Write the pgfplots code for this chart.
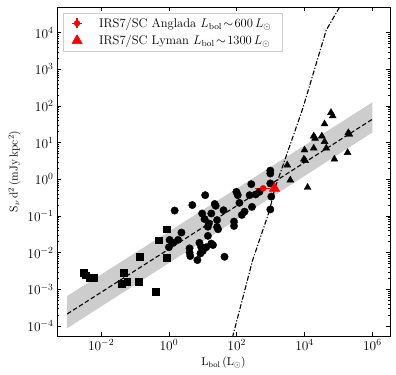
\RequirePackage{fix-cm}
\documentclass[border=0pt]{standalone}
\usepackage{pgfplots}
\pgfplotsset{compat=1.18}
\definecolor{bandgray}{RGB}{205,205,205}
\definecolor{legframe}{RGB}{204,204,204}

% filled circle with a small error cross, for the legend
\pgfdeclareplotmark{crossdot}{%
  \pgfsetlinewidth{1.3pt}%
  \pgfpathmoveto{\pgfpoint{-1.6\pgfplotmarksize}{0pt}}%
  \pgfpathlineto{\pgfpoint{1.6\pgfplotmarksize}{0pt}}%
  \pgfpathmoveto{\pgfpoint{0pt}{-1.6\pgfplotmarksize}}%
  \pgfpathlineto{\pgfpoint{0pt}{1.6\pgfplotmarksize}}%
  \pgfusepathqstroke
  \pgfpathcircle{\pgfpointorigin}{\pgfplotmarksize}%
  \pgfusepathqfill}

\begin{document}
\begin{tikzpicture}
\begin{axis}[
    scale only axis,
    width=333bp, height=329bp,
    xmode=log, ymode=log,
    xmin=5.01e-4, xmax=3.31e6,
    ymin=5.37e-5, ymax=5.01e4,
    xtick={1e-2,1,1e2,1e4,1e6},
    minor xtick={},
    ytick={1e-4,1e-3,1e-2,1e-1,1,1e1,1e2,1e3,1e4},
    tick align=inside,
    major tick length=3.6bp, minor tick length=2bp,
    every tick/.style={black, line width=0.6pt},
    axis line style={line width=0.8pt},
    tick label style={font=\fontsize{13.5}{15}\selectfont},
    label style={font=\fontsize{11.5}{13}\selectfont},
    xlabel={$\mathrm{L_{bol}\,(L_{\odot})}$},
    ylabel={$\mathrm{S_{\nu}\,d^{2}\,(mJy\,kpc^{2})}$},
    legend style={at={(0.017,0.983)}, anchor=north west, draw=legframe,
        fill=white, font=\fontsize{12.6}{15}\selectfont,
        inner xsep=9bp, inner ysep=3bp,
        cells={anchor=west}, row sep=2.5bp},
]

% scatter band of the Anglada relation
\addplot[fill=bandgray, draw=none, forget plot] coordinates {
(1e-3,6.6e-4) (1e6,125.9) (1e6,19.05) (1e-3,8.7e-5)} -- cycle;

% best fit
\addplot[black, line width=1.1pt, dash pattern=on 4.5bp off 2.5bp, forget plot] coordinates {
(1e-3,2.14e-4) (1e6,43.65)};

% Lyman continuum curve
\addplot[black, line width=1.1pt, dash pattern=on 5bp off 1.8bp on 1.2bp off 1.8bp, forget plot] coordinates {
(63.1,2.69e-5) (76.7,5.37e-5) (295.1,6.31e-3) (933.3,0.1445) (1288,0.5129)
(8913,87.1) (4.365e4,1.175e4) (1.072e5,4.898e4) (1.585e5,9.12e4)};

% squares
\addplot[only marks, mark=square*, mark size=3.4bp, black, forget plot] coordinates {
(3.02e-3,2.884e-3) (3.548e-3,2.455e-3) (4.677e-3,2.138e-3) (6.166e-3,2.089e-3)
(4.571e-2,2.884e-3) (4.074e-2,1.445e-3) (5.888e-2,1.622e-3) (0.1259,1.622e-3)
(0.1413,7.762e-3) (0.4074,8.511e-4) (0.4898,2.188e-2) (0.8511,4.365e-2)
(0.8511,7.244e-3)};

% circles
\addplot[only marks, mark=*, mark size=3.7bp, black, forget plot] coordinates {
(1.047,0.02239) (1.0,0.01413) (1.318,0.01862) (1.862,0.02239) (1.479,0.1413)
(2.344,0.03548) (4.898,0.1995) (4.074,0.01318) (4.074,0.0100) (4.266,0.008128)
(7.943,0.01862) (8.511,0.00955) (6.918,0.00631) (11.75,0.3715) (9.55,0.1175)
(11.22,0.08318) (14.13,0.05129) (14.13,0.02884) (12.59,0.01413) (10.0,0.01122)
(22.39,0.2138) (23.99,0.1905) (26.30,0.07762) (28.18,0.04365) (26.30,0.05012)
(19.95,0.01622) (43.65,0.007762) (40.74,0.1445) (83.18,0.07079) (83.18,0.0537)
(97.72,0.4571) (107.2,0.3715) (120.2,0.2291) (141.3,0.1072) (169.8,0.1318)
(239.9,0.3715) (269.2,0.7413) (281.8,0.1778) (363.1,0.389) (467.7,0.4571)
(977.2,1.738) (977.2,1.445) (977.2,0.7762) (1047,0.3388) (977.2,0.1514)
(17.78,0.1175) (15.14,0.0631) (8.913,0.01445) (17.78,0.01778)};

% triangles
\addplot[only marks, mark=triangle*, mark size=4bp, black, forget plot] coordinates {
(6.026e4,66.07) (6.761e4,53.7) (3.89e4,32.36) (1.862e4,15.14) (2.042e4,13.18)
(3.236e4,15.14) (3.89e4,10.72) (1.862e4,7.079) (1.0e4,6.31) (4.365e4,7.079)
(1.95e5,18.62) (2.089e5,16.98) (9550,3.548) (1.047e4,3.236) (7.586e4,3.548)
(1.862e5,5.37) (3090,2.455) (3802,0.955) (1.23e4,0.6026)};

% IRS7/SC, Anglada: error bars and point
\addplot[red, line width=1.3pt, forget plot] coordinates {(339,0.57) (933,0.57)};
\addplot[red, line width=1.3pt, forget plot] coordinates {(600,0.51) (600,0.64)};
\addplot[red, only marks, mark=*, mark size=3bp, forget plot] coordinates {(600,0.57)};
\addlegendimage{red, only marks, mark=crossdot, mark size=3.2bp}
\addlegendentry{\hspace{15bp}IRS7/SC Anglada $L_{\mathrm{bol}}\!\sim\!600\,L_{\odot}$\hspace{-8bp}}

% IRS7/SC, Lyman
\addplot[red, only marks, mark=triangle*, mark size=6bp] coordinates {(1300,0.57)};
\addlegendentry{\hspace{15bp}IRS7/SC Lyman $L_{\mathrm{bol}}\!\sim\!1300\,L_{\odot}$}
\end{axis}
\pgfresetboundingbox
\path[use as bounding box] (-57bp,-39bp) rectangle (339bp,336bp);
\end{tikzpicture}
\end{document}
